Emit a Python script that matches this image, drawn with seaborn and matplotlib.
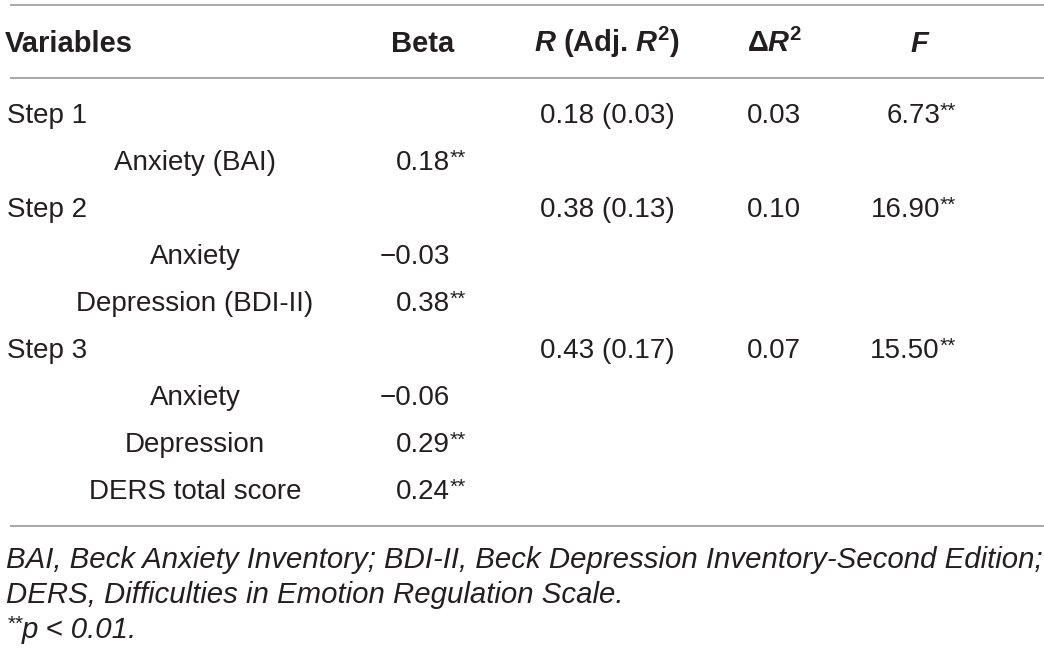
import matplotlib
matplotlib.use("Agg")
import matplotlib.pyplot as plt
import seaborn as sns
import pandas as pd

# ---- data ----
row_labels = ["Step 1", "Anxiety (BAI)", "Step 2", "Anxiety", "Depression (BDI-II)",
              "Step 3", "Anxiety", "Depression", "DERS total score"]
row_is_step = [True, False, True, False, False, True, False, False, False]
beta_values = [None, 0.18, None, -0.03, 0.38, None, -0.06, 0.29, 0.24]
beta_sig = [False, True, False, False, True, False, False, True, True]
r_values = [0.18, None, 0.38, None, None, 0.43, None, None, None]
adj_r2_values = [0.03, None, 0.13, None, None, 0.17, None, None, None]
delta_r2_values = [0.03, None, 0.10, None, None, 0.07, None, None, None]
f_values = [6.73, None, 16.90, None, None, 15.50, None, None, None]
f_sig = [True, False, True, False, False, True, False, False, False]
header_labels = ["Variables", "Beta", r"$\mathbfit{R}$ (Adj. $\mathbfit{R}^{\mathbf{2}}$)",
                 r"$\mathbf{\Delta}\mathbfit{R}^{\mathbf{2}}$", r"$\mathbfit{F}$"]
footnote_lines = ["BAI, Beck Anxiety Inventory; BDI-II, Beck Depression Inventory-Second Edition;",
                  "DERS, Difficulties in Emotion Regulation Scale."]

df = pd.DataFrame({"label": row_labels, "step": row_is_step, "beta": beta_values,
                   "beta_sig": beta_sig, "r": r_values, "adj": adj_r2_values,
                   "dr2": delta_r2_values, "F": f_values, "F_sig": f_sig})

sns.set_theme(style="white")
FONT = "Liberation Sans"
plt.rcParams["font.family"] = [FONT, "DejaVu Sans"]
plt.rcParams["mathtext.fontset"] = "custom"
plt.rcParams["mathtext.rm"] = FONT
plt.rcParams["mathtext.bf"] = f"{FONT}:bold"
plt.rcParams["mathtext.it"] = f"{FONT}:italic"
plt.rcParams["mathtext.bfit"] = f"{FONT}:bold:italic"

TXT = "#231f20"
LINE = "#9a9a9a"
FS = 20
HFS = 21
NFS = 21.2
SUP = 15

fig = plt.figure(figsize=(10.44, 6.5), dpi=100)
ax = fig.add_axes([0, 0, 1, 1])
ax.set_xlim(0, 1044)
ax.set_ylim(650, 0)
ax.axis("off")

# rules
for y in [5, 78, 526]:
    ax.plot([10, 1044], [y, y], color=LINE, lw=1.2, solid_capstyle="butt")

# header
hb = 52
ax.text(5, hb, header_labels[0], ha="left", va="baseline", fontsize=HFS, fontweight="bold", color=TXT)
ax.text(423, hb, header_labels[1], ha="center", va="baseline", fontsize=HFS, fontweight="bold", color=TXT)
ax.text(607, hb, header_labels[2], ha="center", va="baseline", fontsize=HFS, fontweight="bold", color=TXT)
ax.text(774, hb, header_labels[3], ha="center", va="baseline", fontsize=HFS, fontweight="bold", color=TXT)
ax.text(920, hb, header_labels[4], ha="center", va="baseline", fontsize=HFS, fontweight="bold", color=TXT)


def stars(t, style="normal"):
    ax.annotate("**", xy=(1, 1), xycoords=t, xytext=(0, 1), textcoords="offset points",
                ha="left", va="top", fontsize=SUP, color=TXT, style=style)


def fmt(v):
    s = f"{abs(v):.2f}"
    return ("\u2212" + s) if v < 0 else s


base0 = 123
step_h = 47.0
for i, row in df.iterrows():
    yb = base0 + i * step_h
    if row["step"]:
        ax.text(7, yb, row["label"], ha="left", va="baseline", fontsize=FS, color=TXT)
    else:
        ax.text(195, yb, row["label"], ha="center", va="baseline", fontsize=FS, color=TXT)
    if pd.notna(row["beta"]):
        t = ax.text(450, yb, fmt(row["beta"]), ha="right", va="baseline", fontsize=FS, color=TXT)
        if row["beta_sig"]:
            stars(t)
    if pd.notna(row["r"]):
        ax.text(607, yb, f"{row['r']:.2f} ({row['adj']:.2f})", ha="center", va="baseline",
                fontsize=FS, color=TXT)
    if pd.notna(row["dr2"]):
        ax.text(774, yb, f"{row['dr2']:.2f}", ha="center", va="baseline", fontsize=FS, color=TXT)
    if pd.notna(row["F"]):
        t = ax.text(940, yb, f"{row['F']:.2f}", ha="right", va="baseline", fontsize=FS, color=TXT)
        if row["F_sig"]:
            stars(t)

# footnotes
ax.text(6, 568, footnote_lines[0], ha="left", va="baseline", fontsize=NFS, style="italic", color=TXT)
ax.text(6, 603, footnote_lines[1], ha="left", va="baseline", fontsize=NFS, style="italic", color=TXT)
ax.text(7, 630, "**", ha="left", va="baseline", fontsize=SUP, style="italic", color=TXT)
ax.text(22, 638, "p < 0.01.", ha="left", va="baseline", fontsize=NFS, style="italic", color=TXT)

fig.savefig("out.png", dpi=100)
